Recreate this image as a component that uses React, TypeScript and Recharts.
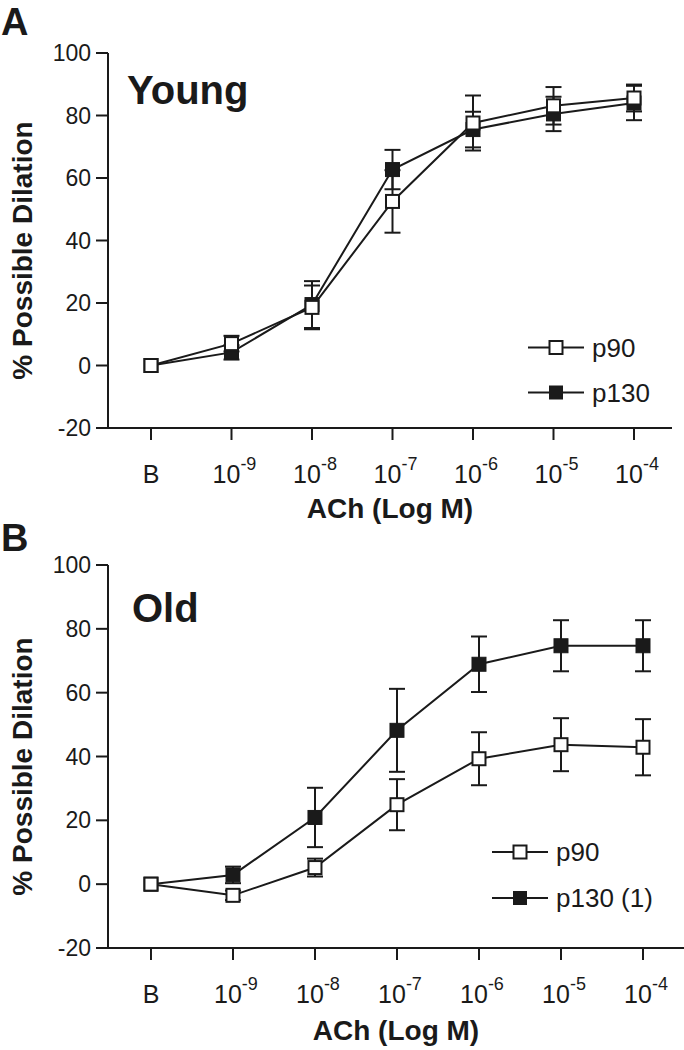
import React from 'react';
import { LineChart, Line, XAxis, YAxis, ErrorBar, Legend } from 'recharts';

// ACh doses: B = baseline, then 10^-9 ... 10^-4 M
const doseIndex = [0, 1, 2, 3, 4, 5, 6];
const doseLabels = ['B', '-9', '-8', '-7', '-6', '-5', '-4'];
const yTicks = [-20, 0, 20, 40, 60, 80, 100];

// Panel A, young
const youngP90 = [0, 7.0, 18.6, 52.5, 77.6, 83.1, 85.6];
const youngP90Err = [0, 2.5, 7, 10, 8.8, 6, 4.3];
const youngP130 = [0, 4.2, 19.5, 62.7, 75.5, 80.5, 84];
const youngP130Err = [0, 2.3, 7.5, 6.3, 5.7, 5.5, 5.5];

// Panel B, old
const oldP90 = [0, -3.5, 5.2, 24.9, 39.3, 43.7, 42.9];
const oldP90Err = [0, 1.5, 2.8, 8, 8.3, 8.3, 8.8];
const oldP130 = [0, 2.9, 20.9, 48.2, 68.9, 74.7, 74.7];
const oldP130Err = [0, 2.6, 9.3, 13, 8.7, 8, 8];

const legendA = [
  { name: 'p90', filled: false },
  { name: 'p130', filled: true },
];
const legendB = [
  { name: 'p90', filled: false },
  { name: 'p130 (1)', filled: true },
];

const FONT = '"Liberation Sans", Arial, Helvetica, sans-serif';
const INK = '#1a1a1a';

function buildRows(p90: number[], p90Err: number[], p130: number[], p130Err: number[]) {
  return doseIndex.map((x, i) => ({
    x,
    p90: p90[i],
    p90Err: p90Err[i],
    p130: p130[i],
    p130Err: p130Err[i],
  }));
}

const rowsA = buildRows(youngP90, youngP90Err, youngP130, youngP130Err);
const rowsB = buildRows(oldP90, oldP90Err, oldP130, oldP130Err);

function openSquare(props: any) {
  const { cx, cy, index } = props;
  if (cx == null || cy == null) return <g key={`o-${index}`} />;
  return (
    <rect key={`o-${index}`} x={cx - 6.5} y={cy - 6.5} width={13} height={13} fill="#fff" stroke={INK} strokeWidth={2} />
  );
}

function filledSquare(props: any) {
  const { cx, cy, index } = props;
  if (cx == null || cy == null) return <g key={`f-${index}`} />;
  return (
    <rect key={`f-${index}`} x={cx - 7} y={cy - 7} width={14} height={14} fill={INK} stroke={INK} strokeWidth={1} />
  );
}

function DoseTick(props: any) {
  const { x, y, payload } = props;
  const label = doseLabels[payload.value];
  if (label === 'B') {
    return (
      <text x={x} y={y + 41} textAnchor="middle" fontSize={25} fontFamily={FONT} fill={INK}>
        B
      </text>
    );
  }
  return (
    <text x={x + 3} y={y + 41} textAnchor="middle" fontSize={25} fontFamily={FONT} fill={INK}>
      10
      <tspan dy={-13} fontSize={18}>
        {label}
      </tspan>
    </text>
  );
}

function yLabel(props: any) {
  const vb = props.viewBox || {};
  const cx = 22;
  const cy = vb.y + vb.height / 2 + 10;
  return (
    <text
      x={cx}
      y={cy}
      transform={`rotate(-90 ${cx} ${cy})`}
      textAnchor="middle"
      dominantBaseline="central"
      fontSize={28}
      fontWeight="bold"
      fontFamily={FONT}
      fill={INK}
    >
      % Possible Dilation
    </text>
  );
}

function xLabel(offset: number) {
  return (props: any) => {
    const vb = props.viewBox || {};
    return (
      <text
        x={vb.x + vb.width / 2}
        y={vb.y + offset}
        textAnchor="middle"
        fontSize={28}
        fontWeight="bold"
        fontFamily={FONT}
        fill={INK}
      >
        ACh (Log M)
      </text>
    );
  };
}

function legendContent(items: { name: string; filled: boolean }[], rowH: number) {
  return () => (
    <svg width={200} height={rowH * items.length}>
      {items.map((it, i) => {
        const cy = rowH / 2 + i * rowH;
        return (
          <g key={it.name}>
            <line x1={0} x2={56} y1={cy} y2={cy} stroke={INK} strokeWidth={2} />
            {it.filled ? (
              <rect x={21} y={cy - 7} width={14} height={14} fill={INK} />
            ) : (
              <rect x={21.5} y={cy - 6.5} width={13} height={13} fill="#fff" stroke={INK} strokeWidth={2} />
            )}
            <text x={64} y={cy} dominantBaseline="central" fontSize={26} fontFamily={FONT} fill={INK}>
              {it.name}
            </text>
          </g>
        );
      })}
    </svg>
  );
}

interface PanelProps {
  rows: ReturnType<typeof buildRows>;
  top: number;
  plotHeight: number;
  xAxisHeight: number;
  rightMargin: number;
  domain: [number, number];
  labelOffset: number;
  legendItems: { name: string; filled: boolean }[];
  legendPos: { left: number; top: number };
  legendRow: number;
}

function Panel({ rows, top, plotHeight, xAxisHeight, rightMargin, domain, labelOffset, legendItems, legendPos, legendRow }: PanelProps) {
  const height = 525;
  return (
    <div style={{ position: 'absolute', left: 0, top }}>
      <LineChart
        width={684}
        height={height}
        data={rows}
        margin={{ top: height - plotHeight - xAxisHeight, right: rightMargin, bottom: 0, left: 0 }}
      >
        <XAxis
          dataKey="x"
          type="number"
          domain={domain}
          ticks={doseIndex}
          height={xAxisHeight}
          tickSize={12}
          tickMargin={2}
          axisLine={{ stroke: INK, strokeWidth: 2 }}
          tickLine={{ stroke: INK, strokeWidth: 2 }}
          tick={<DoseTick />}
          label={xLabel(labelOffset)}
        />
        <YAxis
          type="number"
          domain={[-20, 100]}
          ticks={yTicks}
          width={108}
          tickSize={12}
          tickMargin={5}
          axisLine={{ stroke: INK, strokeWidth: 2 }}
          tickLine={{ stroke: INK, strokeWidth: 2 }}
          tick={{ fill: INK, fontSize: 23, fontFamily: FONT }}
          label={yLabel}
        />
        <Legend
          layout="horizontal"
          verticalAlign="middle"
          align="center"
          content={legendContent(legendItems, legendRow)}
          wrapperStyle={{ left: legendPos.left, top: legendPos.top, width: 200 }}
        />
        <Line
          type="linear"
          dataKey="p130"
          name="p130"
          stroke={INK}
          strokeWidth={2}
          dot={filledSquare}
          activeDot={false}
          isAnimationActive={false}
        >
          <ErrorBar dataKey="p130Err" direction="y" width={8} strokeWidth={2} stroke={INK} />
        </Line>
        <Line
          type="linear"
          dataKey="p90"
          name="p90"
          stroke={INK}
          strokeWidth={2}
          dot={openSquare}
          activeDot={false}
          isAnimationActive={false}
        >
          <ErrorBar dataKey="p90Err" direction="y" width={8} strokeWidth={2} stroke={INK} />
        </Line>
      </LineChart>
    </div>
  );
}

export default function App() {
  return (
    <div
      style={{
        position: 'absolute',
        left: 0,
        top: 0,
        width: 684,
        height: 1050,
        background: '#fff',
        fontFamily: FONT,
        overflow: 'hidden',
      }}
    >
      <Panel
        rows={rowsA}
        top={0}
        plotHeight={375}
        xAxisHeight={97}
        rightMargin={12}
        domain={[-0.534, 6.472]}
        labelOffset={90}
        legendItems={legendA}
        legendPos={{ left: 528, top: 325 }}
        legendRow={45}
      />
      <Panel
        rows={rowsB}
        top={525}
        plotHeight={383}
        xAxisHeight={102}
        rightMargin={0}
        domain={[-0.524, 6.5]}
        labelOffset={92}
        legendItems={legendB}
        legendPos={{ left: 492, top: 304 }}
        legendRow={46}
      />
      <svg
        width={684}
        height={1050}
        style={{ position: 'absolute', left: 0, top: 0, pointerEvents: 'none' }}
      >
        <text x={1} y={35} fontSize={38} fontWeight="bold" fontFamily={FONT} fill={INK}>
          A
        </text>
        <text x={127} y={104} fontSize={40} fontWeight="bold" fontFamily={FONT} fill={INK}>
          Young
        </text>
        <text x={1} y={551} fontSize={38} fontWeight="bold" fontFamily={FONT} fill={INK}>
          B
        </text>
        <text x={132} y={622} fontSize={40} fontWeight="bold" fontFamily={FONT} fill={INK}>
          Old
        </text>
      </svg>
    </div>
  );
}
